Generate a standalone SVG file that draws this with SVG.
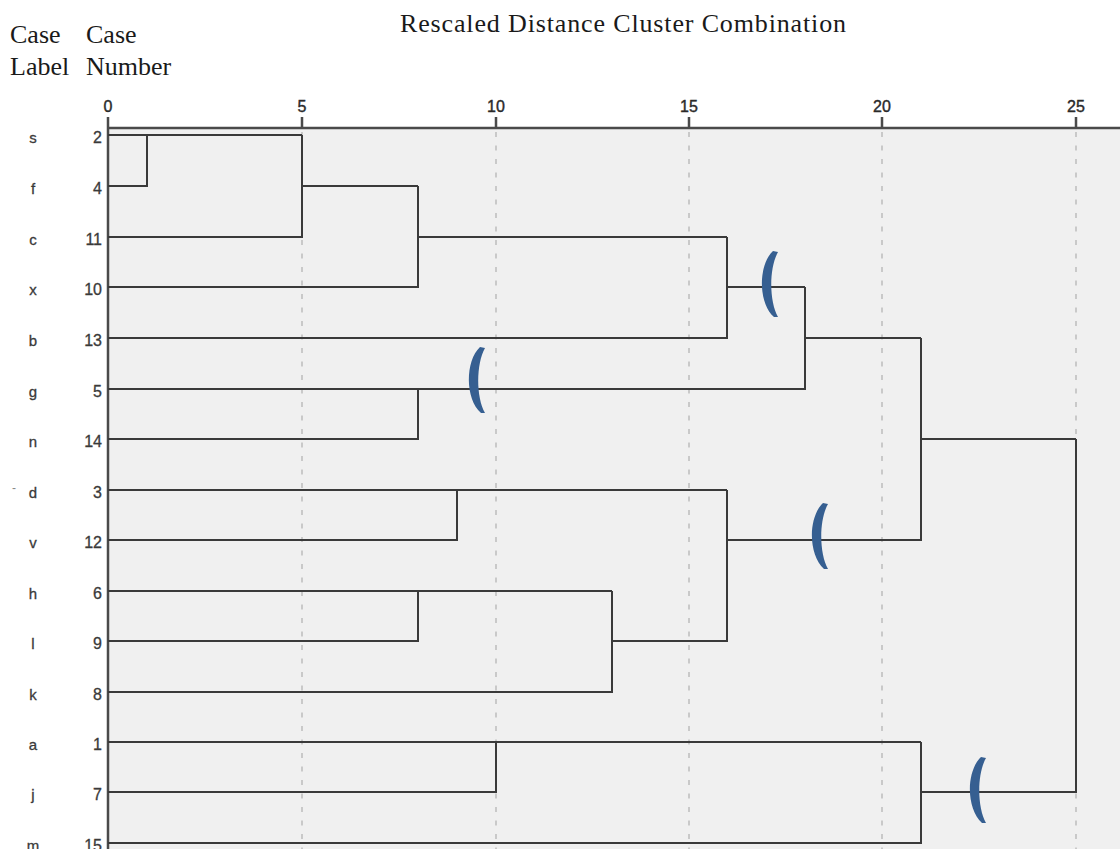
<svg xmlns="http://www.w3.org/2000/svg" width="1120" height="849" viewBox="0 0 1120 849">
<style>
.ser{font-family:"Liberation Serif","Times New Roman",serif;font-size:26px;fill:#1a1a1a}
.tick{font-family:"Liberation Sans",Arial,sans-serif;font-size:16px;fill:#2a2a2a;text-anchor:middle;stroke:#2a2a2a;stroke-width:0.4}
.lab{font-family:"Liberation Sans",Arial,sans-serif;font-size:15px;fill:#3a3a3a;text-anchor:middle;stroke:#3a3a3a;stroke-width:0.3}
.num{font-family:"Liberation Sans",Arial,sans-serif;font-size:16px;fill:#3a3a3a;text-anchor:end;stroke:#3a3a3a;stroke-width:0.3}
.grid{stroke:#c9c9c9;stroke-width:2;stroke-dasharray:5 8.5;fill:none}
.ln{stroke:#3a3a3a;stroke-width:2;fill:none}
.ax{stroke:#4a4a4a;stroke-width:2.5;fill:none}
.br{fill:#365f91}
</style>
<defs>
<path id="bracket" d="M12 0 C-3 14 -3 52 13 66 L17 66 C8 50 8 17 17 1 Z"/>
</defs>
<rect x="0" y="0" width="1120" height="849" fill="#ffffff"/>
<g id="plot-area">
<rect x="108" y="128" width="1012" height="721" fill="#f0f0f0"/>
</g>
<g id="gridlines">
<line class="grid" x1="302" y1="132" x2="302" y2="849"/>
<line class="grid" x1="496" y1="132" x2="496" y2="849"/>
<line class="grid" x1="689" y1="132" x2="689" y2="849"/>
<line class="grid" x1="882" y1="132" x2="882" y2="849"/>
<line class="grid" x1="1076" y1="132" x2="1076" y2="849"/>
</g>
<g id="header">
<text class="ser" x="400" y="32" textLength="446">Rescaled Distance Cluster Combination</text>
<text class="ser" x="10" y="43">Case</text>
<text class="ser" x="86" y="43">Case</text>
<text class="ser" x="10" y="75">Label</text>
<text class="ser" x="86" y="75">Number</text>
</g>
<g id="axis">
<path class="ax" d="M108 128 H1120 M108 117 V849 M302 117 V128 M496 117 V128 M689 117 V128 M882 117 V128 M1076 117 V128"/>
<text class="tick" x="108" y="112">0</text>
<text class="tick" x="302" y="112">5</text>
<text class="tick" x="496" y="112">10</text>
<text class="tick" x="689" y="112">15</text>
<text class="tick" x="882" y="112">20</text>
<text class="tick" x="1076" y="112">25</text>
</g>
<g id="case-labels">
<text class="lab" x="33" y="143">s</text>
<text class="lab" x="33" y="194">f</text>
<text class="lab" x="33" y="245">c</text>
<text class="lab" x="33" y="295">x</text>
<text class="lab" x="33" y="346">b</text>
<text class="lab" x="33" y="397">g</text>
<text class="lab" x="33" y="447">n</text>
<text class="lab" x="14" y="492" style="font-size:12px;fill:#888;stroke:none">-</text>
<text class="lab" x="33" y="498">d</text>
<text class="lab" x="33" y="548">v</text>
<text class="lab" x="33" y="599">h</text>
<text class="lab" x="33" y="649">l</text>
<text class="lab" x="33" y="700">k</text>
<text class="lab" x="33" y="750">a</text>
<text class="lab" x="33" y="800">j</text>
<text class="lab" x="33" y="851">m</text>
</g>
<g id="case-numbers">
<text class="num" x="102" y="143">2</text>
<text class="num" x="102" y="194">4</text>
<text class="num" x="102" y="245">11</text>
<text class="num" x="102" y="295">10</text>
<text class="num" x="102" y="346">13</text>
<text class="num" x="102" y="397">5</text>
<text class="num" x="102" y="447">14</text>
<text class="num" x="102" y="498">3</text>
<text class="num" x="102" y="548">12</text>
<text class="num" x="102" y="599">6</text>
<text class="num" x="102" y="649">9</text>
<text class="num" x="102" y="700">8</text>
<text class="num" x="102" y="750">1</text>
<text class="num" x="102" y="800">7</text>
<text class="num" x="102" y="851">15</text>
</g>
<g id="connectors">
<path class="ln" d="M108 135 H302"/>
<path class="ln" d="M108 186 H147 V135"/>
<path class="ln" d="M108 237 H302 V135"/>
<path class="ln" d="M302 186 H418"/>
<path class="ln" d="M108 287 H418 V186"/>
<path class="ln" d="M418 237 H727"/>
<path class="ln" d="M108 338 H727 V237"/>
<path class="ln" d="M727 287 H805"/>
<path class="ln" d="M108 389 H805 V287"/>
<path class="ln" d="M108 439 H418 V389"/>
<path class="ln" d="M805 338 H921"/>
<path class="ln" d="M108 490 H727"/>
<path class="ln" d="M108 540 H457 V490"/>
<path class="ln" d="M108 591 H612"/>
<path class="ln" d="M108 641 H418 V591"/>
<path class="ln" d="M108 692 H612 V591"/>
<path class="ln" d="M612 641 H727 V490"/>
<path class="ln" d="M727 540 H921 V338"/>
<path class="ln" d="M921 439 H1076"/>
<path class="ln" d="M108 742 H921"/>
<path class="ln" d="M108 792 H496 V742"/>
<path class="ln" d="M108 843 H921 V742"/>
<path class="ln" d="M921 792 H1076 V439"/>
</g>
<g id="brackets">
<use class="br" href="#bracket" x="761" y="251"/>
<use class="br" href="#bracket" x="468" y="347"/>
<use class="br" href="#bracket" x="811" y="503"/>
<use class="br" href="#bracket" x="969" y="757"/>
</g>
</svg>
